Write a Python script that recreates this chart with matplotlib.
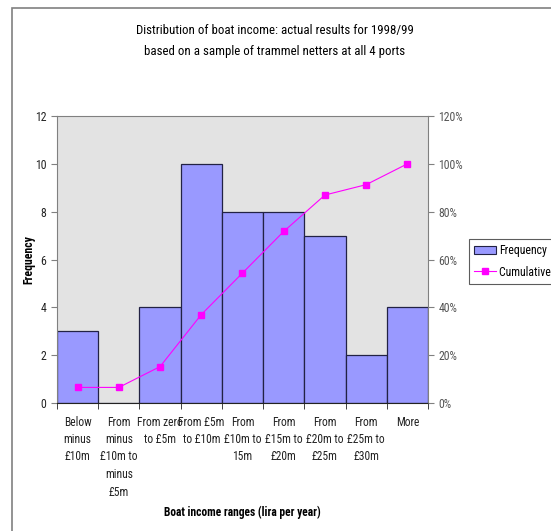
import numpy as np
import matplotlib.pyplot as plt
from matplotlib.patches import Patch, Rectangle
from matplotlib.lines import Line2D

plt.rcParams['font.family'] = ['Roboto Condensed', 'DejaVu Sans']

# income bins and counts
bins = ['Below\nminus\n£10m', 'From\nminus\n£10m to\nminus\n£5m', 'From zero\nto £5m',
        'From £5m\nto £10m', 'From\n£10m to\n15m', 'From\n£15m to\n£20m',
        'From\n£20m to\n£25m', 'From\n£25m to\n£30m', 'More']
frequency = [3, 0, 4, 10, 8, 8, 7, 2, 4]
cumulative_pct = [6.52, 6.52, 15.22, 36.96, 54.35, 71.74, 86.96, 91.30, 100.0]

bar_col = '#9999FF'
line_col = '#FF00FF'

fig = plt.figure(figsize=(5.51, 5.31), dpi=100)
# chart frame
fig.patches.append(Rectangle((12 / 551, -0.1), 1.0, 1 - 8 / 531 + 0.1, transform=fig.transFigure,
                             fill=False, edgecolor='#808080', linewidth=1.2))

ax = fig.add_axes([57 / 551, 1 - 403 / 531, (428 - 57) / 551, (403 - 116) / 531])
ax.set_facecolor('#E3E3E3')
x = np.arange(len(bins))
ax.bar(x, frequency, width=1.0, color=bar_col, edgecolor='#222244', linewidth=0.9, zorder=2)
ax.set_xlim(-0.5, len(bins) - 0.5)
ax.set_ylim(0, 12)
ax.set_yticks(range(0, 13, 2))
ax.set_xticks(x)
ax.set_xticklabels(bins, fontsize=8.3, color='#222222', linespacing=1.45)
ax.set_xticks(np.arange(-0.5, len(bins), 1), minor=True)
ax.tick_params(axis='x', which='major', length=0, pad=9)
ax.tick_params(axis='x', which='minor', length=4, color='#222222')
ax.tick_params(axis='y', labelsize=8.5, length=4, color='#808080', labelcolor='#222222')
for s in ['left', 'top', 'right']:
    ax.spines[s].set_color('#808080')
ax.spines['bottom'].set_color('#222222')
ax.set_ylabel('Frequency', fontsize=8.5, fontweight='bold')
ax.yaxis.set_label_coords(-0.058, 0.5)
ax.set_xlabel('Boat income ranges (lira per year)', fontsize=8.3, fontweight='bold', labelpad=5)

ax2 = ax.twinx()
ax2.plot(x, cumulative_pct, color=line_col, linewidth=0.8, marker='s', markersize=5,
         markeredgecolor=line_col, zorder=3)
ax2.set_ylim(0, 120)
ax2.set_yticks(range(0, 121, 20))
ax2.set_yticklabels([f'{v}%' for v in range(0, 121, 20)])
ax2.tick_params(axis='y', labelsize=8.5, length=4, color='#808080', labelcolor='#555555')
for s in ['left', 'top', 'right', 'bottom']:
    ax2.spines[s].set_visible(False)

fig.text(275 / 551, 1 - 31 / 531, 'Distribution of boat income: actual results for 1998/99',
         ha='center', va='center', fontsize=9.3)
fig.text(275 / 551, 1 - 51 / 531, 'based on a sample of trammel netters at all 4 ports',
         ha='center', va='center', fontsize=9.3)

handles = [Patch(facecolor=bar_col, edgecolor='#222244', linewidth=0.8),
           Line2D([0], [0], color=line_col, linewidth=0.8, marker='s', markersize=5)]
leg = fig.legend(handles, ['Frequency', 'Cumulative %'], loc='upper left',
                 bbox_to_anchor=(469 / 551, 1 - 239 / 531), fontsize=8.5, frameon=True,
                 fancybox=False, borderpad=0.45, handlelength=1.8, labelspacing=0.7,
                 handletextpad=0.3, borderaxespad=0)
leg.get_frame().set_edgecolor('#333333')
leg.get_frame().set_linewidth(0.8)

fig.savefig('out.png', dpi=100)
